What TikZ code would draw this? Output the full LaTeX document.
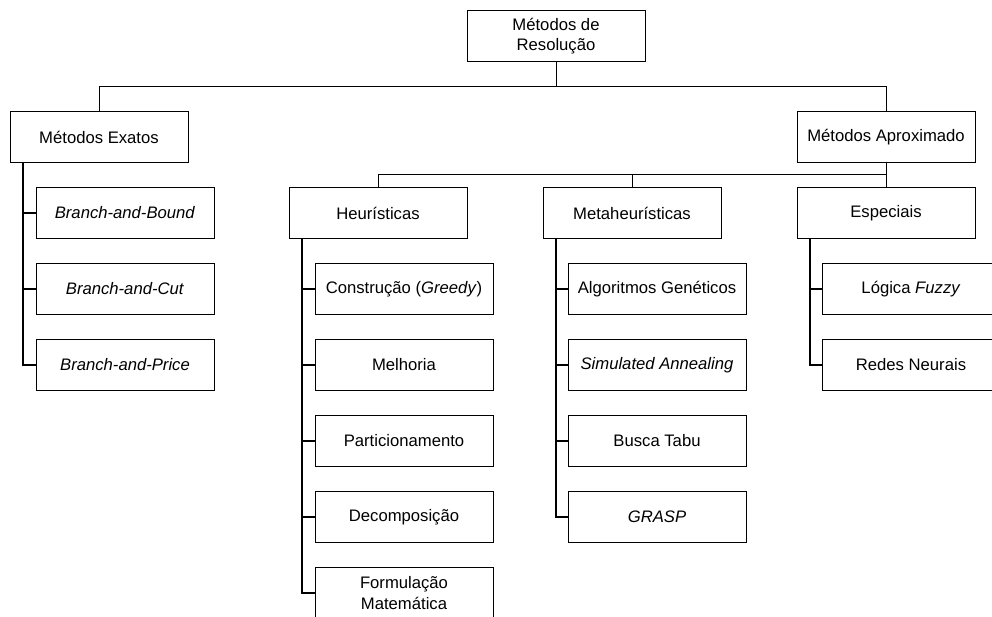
\documentclass[tikz,border=0pt]{standalone}
\usepackage{amsmath}
\usepackage{amssymb}
\usepackage{fontspec}
\setmainfont{Liberation Sans}
\usepackage{tikz}

\begin{document}
\begin{tikzpicture}
      [x=0.75pt,y=-0.75pt,line width=0.75pt,
       main node/.style={rectangle,draw,align=center,outer sep=0pt,inner sep=2pt,
         minimum width=133.5pt,minimum height=38.25pt,
         font=\fontsize{12.5}{15.5}\selectfont},
       trunk/.style={line width=1.1pt}]
        \clip (0,0) rectangle (992,617);

        \node[main node] (res) at (556,36) {Métodos de\\Resolução};
        \node[main node] (exatos) at (99,137) {Métodos Exatos};
        \node[main node] (aprox) at (886,137) {Métodos Aproximado};

        \node[main node] (heur) at (378,213) {Heurísticas};
        \node[main node] (meta) at (632,213) {Metaheurísticas};
        \node[main node] (espec) at (886,213) {Especiais};

        \node[main node] (bb) at (125,213) {\textit{Branch-and-Bound}};
        \node[main node] (bc) at (125,289) {\textit{Branch-and-Cut}};
        \node[main node] (bp) at (125,365) {\textit{Branch-and-Price}};

        \node[main node] (constr) at (404,289) {Construção (\textit{Greedy})};
        \node[main node] (melh) at (404,365) {Melhoria};
        \node[main node] (part) at (404,441) {Particionamento};
        \node[main node] (decomp) at (404,517) {Decomposição};
        \node[main node] (form) at (404,593) {Formulação\\Matemática};

        \node[main node] (ag) at (657,289) {Algoritmos Genéticos};
        \node[main node] (sa) at (657,365) {\textit{Simulated Annealing}};
        \node[main node] (tabu) at (657,441) {Busca Tabu};
        \node[main node] (grasp) at (657,517) {\textit{GRASP}};

        \node[main node] (fuzzy) at (911,289) {Lógica \textit{Fuzzy}};
        \node[main node] (redes) at (911,365) {Redes Neurais};

        \draw (exatos.north) -- ++(0,-25) -| (res.south);
        \draw (aprox.north) -- ++(0,-25) -| (res.south);
        \foreach \n in {heur,meta,espec}
          \draw (\n.north) -- ++(0,-13) -| (aprox.south);

        \foreach \c in {bb,bc,bp}
          \draw[trunk] (exatos.south west) ++(13,0) |- (\c.west);
        \foreach \c in {constr,melh,part,decomp,form}
          \draw[trunk] (heur.south west) ++(13,0) |- (\c.west);
        \foreach \c in {ag,sa,tabu,grasp}
          \draw[trunk] (meta.south west) ++(13,0) |- (\c.west);
        \foreach \c in {fuzzy,redes}
          \draw[trunk] (espec.south west) ++(13,0) |- (\c.west);

      \end{tikzpicture}
\end{document}
